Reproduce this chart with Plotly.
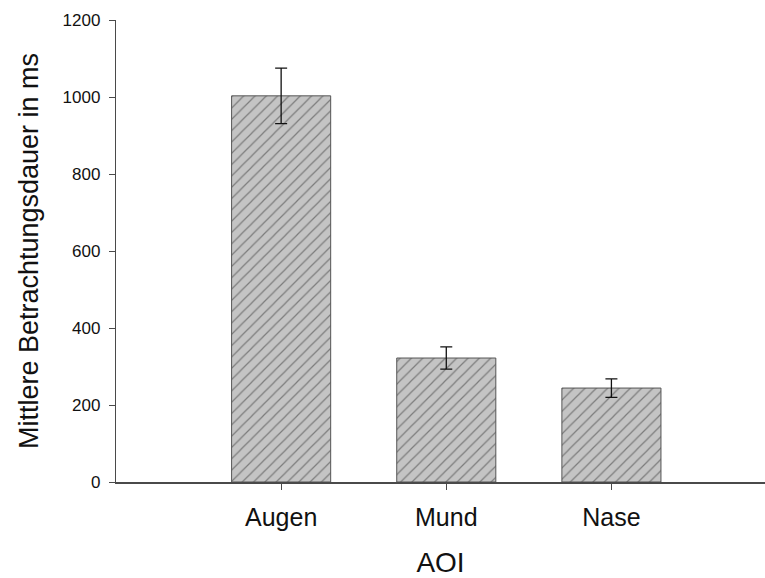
import plotly.graph_objects as go

categories = ["Augen", "Mund", "Nase"]
means = [1003, 322, 244]
errors = [72, 29, 24]
y_ticks = [0, 200, 400, 600, 800, 1000, 1200]

FONT = "Arial, Liberation Sans, Helvetica, sans-serif"

fig = go.Figure()
fig.add_trace(go.Bar(
    x=categories,
    y=means,
    width=0.6,
    marker=dict(
        color="#c4c4c4",
        line=dict(color="#555555", width=1),
        pattern=dict(shape="/", size=8, solidity=0.15, fgcolor="#333333", bgcolor="#c4c4c4"),
    ),
    error_y=dict(type="data", array=errors, visible=True, color="#111111", thickness=1.3, width=6),
))

fig.update_layout(
    width=765, height=578,
    margin=dict(l=116, r=0, t=20, b=96),
    paper_bgcolor="white", plot_bgcolor="white",
    font=dict(family=FONT, color="#111111"),
    showlegend=False,
    xaxis=dict(
        range=[-1, 2.93],
        automargin=False,
        showline=True, linecolor="#4a4a4a", linewidth=2,
        ticks="outside", ticklen=6, tickcolor="#4a4a4a", tickwidth=1,
        tickfont=dict(size=25, family=FONT, color="#111111"),
        ticklabelstandoff=6,
        showgrid=False, zeroline=False,
        title=dict(text="AOI", font=dict(size=28, family=FONT, color="#111111"), standoff=30),
    ),
    yaxis=dict(
        range=[0, 1200],
        automargin=False,
        tickvals=y_ticks,
        showline=True, linecolor="#4a4a4a", linewidth=1.3,
        ticks="outside", ticklen=6, tickcolor="#4a4a4a", tickwidth=1,
        tickfont=dict(size=17, family=FONT, color="#111111"),
        ticklabelstandoff=5,
        showgrid=False, zeroline=False,
        title=dict(text="Mittlere Betrachtungsdauer in ms", font=dict(size=27, family=FONT, color="#111111"), standoff=16),
    ),
)

fig.write_html(
    "out.html",
    config={"displayModeBar": False},
    post_script="document.body.style.margin='0';document.body.style.overflow='hidden';",
)
